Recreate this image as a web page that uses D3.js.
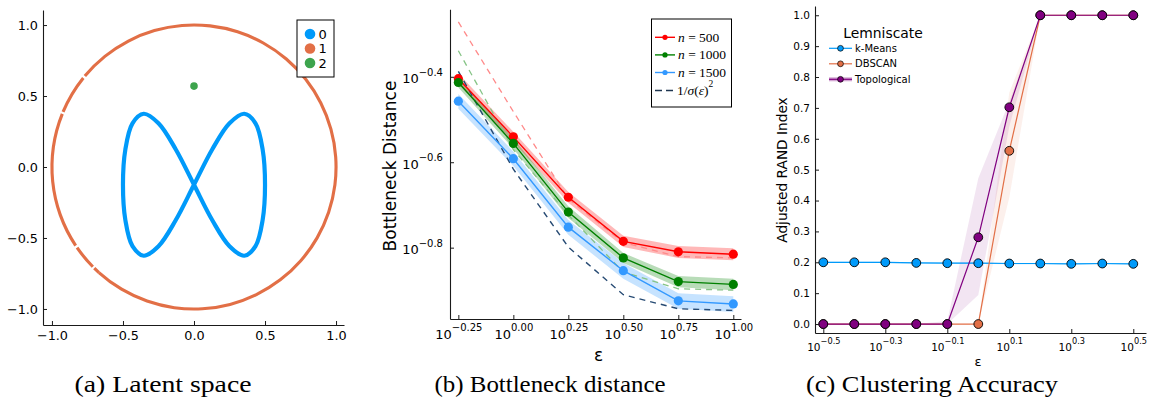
<!DOCTYPE html>
<html><head><meta charset="utf-8">
<script src="https://cdn.jsdelivr.net/npm/d3@7"></script>
<style>
body{margin:0;background:#fff}
svg{display:block}
text{font-family:"DejaVu Sans",sans-serif;fill:#000}
.cap{font-family:"Liberation Serif",serif}
.math{font-family:"Liberation Serif",serif}
</style>
</head><body><svg id="c" width="1151" height="408"></svg>
<script>
// ---------- Panel (a): latent space ----------
const latentTicks = [-1.0, -0.5, 0.0, 0.5, 1.0];
const clusterLabels = ["0", "1", "2"];
const clusterColors = ["#009AFA", "#E26F46", "#3DA44D"];
// cluster 0: lemniscate
const lemX = [0.5, 0.483, 0.433, 0.354, 0.25, 0.129, 0.0, -0.129, -0.25, -0.354, -0.433, -0.483,
              -0.5, -0.483, -0.433, -0.354, -0.25, -0.129, 0.0, 0.129, 0.25, 0.354, 0.433, 0.483];
const lemY = [-0.125, 0.125, 0.308, 0.375, 0.308, 0.125, -0.125, -0.375, -0.558, -0.625, -0.558, -0.375,
              -0.125, 0.125, 0.308, 0.375, 0.308, 0.125, -0.125, -0.375, -0.558, -0.625, -0.558, -0.375];
// cluster 1: unit-circle ring, covered angular segments (degrees, counter-clockwise from +x)
const ringSegments = [[-132, 140.2], [141.2, 157.2], [158, 213.6], [214.6, 224.6], [225.4, 228]];
const ringRadius = 1.0;
// cluster 2: single point
const isolatedX = [0.0];
const isolatedY = [0.57];

// ---------- Panel (b): bottleneck distance ----------
const epsExpB = [-0.25, 0.0, 0.25, 0.5, 0.75, 1.0];
const bTickExpX = [-0.25, 0.0, 0.25, 0.5, 0.75, 1.0];
const bTickExpY = [-0.4, -0.6, -0.8];
const bSeriesNames = ["n = 500", "n = 1000", "n = 1500"];
const bn500  = [0.394, 0.288, 0.208, 0.164, 0.155, 0.153];
const bn500lo = [0.383, 0.280, 0.202, 0.159, 0.150, 0.148];
const bn500hi = [0.405, 0.296, 0.214, 0.169, 0.160, 0.158];
const bn1000 = [0.386, 0.278, 0.192, 0.150, 0.132, 0.130];
const bn1000lo = [0.376, 0.270, 0.186, 0.146, 0.128, 0.126];
const bn1000hi = [0.396, 0.286, 0.198, 0.154, 0.136, 0.134];
const bn1500 = [0.349, 0.256, 0.177, 0.140, 0.119, 0.117];
const bn1500lo = [0.335, 0.246, 0.170, 0.134, 0.114, 0.112];
const bn1500hi = [0.363, 0.266, 0.184, 0.146, 0.124, 0.122];
const bn500fit  = [0.535, 0.330, 0.206, 0.163, 0.151, 0.150];
const bn1000fit = [0.458, 0.269, 0.189, 0.139, 0.127, 0.126];
const sigmaFit  = [0.410, 0.242, 0.159, 0.123, 0.114, 0.113];

// ---------- Panel (c): clustering accuracy ----------
const epsExpC = [-0.5, -0.4, -0.3, -0.2, -0.1, 0.0, 0.1, 0.2, 0.3, 0.4, 0.5];
const cTickExpX = [-0.5, -0.3, -0.1, 0.1, 0.3, 0.5];
const cTicksY = [0.0, 0.1, 0.2, 0.3, 0.4, 0.5, 0.6, 0.7, 0.8, 0.9, 1.0];
const methods = ["k-Means", "DBSCAN", "Topological"];
const kmeans   = [0.200, 0.200, 0.200, 0.198, 0.197, 0.197, 0.196, 0.196, 0.195, 0.196, 0.195];
const kmeansLo = [0.198, 0.198, 0.198, 0.196, 0.195, 0.195, 0.194, 0.194, 0.193, 0.194, 0.193];
const kmeansHi = [0.202, 0.202, 0.202, 0.200, 0.199, 0.199, 0.198, 0.198, 0.197, 0.198, 0.197];
const dbscan   = [0, 0, 0, 0, 0, 0, 0.561, 1, 1, 1, 1];
const dbscanLo = [0, 0, 0, 0, 0, 0, 0.41, 1, 1, 1, 1];
const dbscanHi = [0, 0, 0, 0, 0, 0, 0.75, 1, 1, 1, 1];
const topo     = [0, 0, 0, 0, 0, 0.281, 0.702, 1, 1, 1, 1];
const topoLo   = [0, 0, 0, 0, 0, 0.094, 0.64, 1, 1, 1, 1];
const topoHi   = [0, 0, 0, 0, 0.01, 0.472, 0.72, 1, 1, 1, 1];
const captions = ["(a) Latent space", "(b) Bottleneck distance", "(c) Clustering Accuracy"];

const svg = d3.select("#c");
const axisColor = "#1a1a1a";

function styleAxis(g) {
  g.select(".domain").attr("stroke", axisColor).attr("stroke-width", 1.1);
  g.selectAll(".tick line").attr("stroke", axisColor).attr("stroke-width", 1);
}
function fmtExp(d) {
  let e = Math.round(Math.log10(d) * 100) / 100;
  if (Object.is(e, -0)) e = 0;
  return e;
}
function supLabels(g, expFormat, baseSize, expSize) {
  g.selectAll(".tick text").each(function (d) {
    const t = d3.select(this);
    t.text(null);
    t.append("tspan").attr("font-size", baseSize).text("10");
    t.append("tspan").attr("font-size", expSize).attr("dy", "-0.75em").text(expFormat(fmtExp(d)));
  });
}

// ================= Panel (a) =================
{
  const x = d3.scaleLinear().domain([-1.063, 1.056]).range([43, 344]);
  const y = d3.scaleLinear().domain([-1.113, 1.106]).range([325, 10]);
  const g = svg.append("g");
  const f = d3.format(".1f");

  const arc = d3.arc()
    .innerRadius(x(ringRadius * 0.989) - x(0))
    .outerRadius(x(ringRadius * 1.011) - x(0));
  g.append("g").attr("transform", `translate(${x(0)},${y(0)})`)
    .selectAll("path").data(ringSegments).join("path")
    .attr("d", s => arc({startAngle: (90 - s[1]) * Math.PI / 180, endAngle: (90 - s[0]) * Math.PI / 180}))
    .attr("fill", clusterColors[1]);

  const lemPts = lemX.map((v, i) => [v, lemY[i]]);
  g.append("path").datum(lemPts)
    .attr("d", d3.line().x(d => x(d[0])).y(d => y(d[1])).curve(d3.curveCatmullRomClosed.alpha(0.5)))
    .attr("fill", "none").attr("stroke", clusterColors[0]).attr("stroke-width", 4.2);

  g.selectAll("circle.iso").data(isolatedX.map((v, i) => [v, isolatedY[i]])).join("circle")
    .attr("cx", d => x(d[0])).attr("cy", d => y(d[1])).attr("r", 3.8).attr("fill", clusterColors[2]);

  const xa = g.append("g").attr("transform", "translate(0,325)")
    .call(d3.axisBottom(x).tickValues(latentTicks).tickFormat(f).tickSize(-4).tickSizeOuter(0).tickPadding(6));
  xa.selectAll("text").attr("font-size", 12.8);
  styleAxis(xa);
  const ya = g.append("g").attr("transform", "translate(43,0)")
    .call(d3.axisLeft(y).tickValues(latentTicks).tickFormat(f).tickSize(-4).tickSizeOuter(0).tickPadding(5));
  ya.selectAll("text").attr("font-size", 12.8);
  styleAxis(ya);

  const lg = g.append("g");
  lg.append("rect").attr("x", 297).attr("y", 20).attr("width", 37).attr("height", 57)
    .attr("fill", "#fff").attr("stroke", "#000").attr("stroke-width", 1);
  clusterLabels.forEach((lab, i) => {
    lg.append("circle").attr("cx", 310).attr("cy", 34 + i * 14.5).attr("r", 5.3).attr("fill", clusterColors[i]);
    lg.append("text").attr("x", 318.5).attr("y", 34 + i * 14.5).attr("dy", "0.36em")
      .attr("font-size", 13).text(lab);
  });
}

// ================= Panel (b) =================
{
  const x = d3.scaleLog().domain([10 ** -0.288, 10 ** 1.035]).range([450, 741]);
  const y = d3.scaleLog().domain([10 ** -0.967, 10 ** -0.242]).range([319, 9.3]);
  const g = svg.append("g");
  const defs = svg.append("defs");
  defs.append("clipPath").attr("id", "clipB").append("rect")
    .attr("x", 450).attr("y", 9.3).attr("width", 291).attr("height", 310);
  const pg = g.append("g").attr("clip-path", "url(#clipB)");
  const eps = epsExpB.map(e => 10 ** e);

  const series = [
    {v: bn500, lo: bn500lo, hi: bn500hi, fit: bn500fit, c: "#ff0000", fitc: "#ff8a8a"},
    {v: bn1000, lo: bn1000lo, hi: bn1000hi, fit: bn1000fit, c: "#008000", fitc: "#86c486"},
    {v: bn1500, lo: bn1500lo, hi: bn1500hi, fit: null, c: "#3399ff", fitc: null}
  ];
  const area = d3.area().x((d, i) => x(eps[i])).y0(d => y(d[0])).y1(d => y(d[1]));
  const line = d3.line().x((d, i) => x(eps[i])).y(d => y(d));

  series.forEach(s => {
    pg.append("path").datum(s.lo.map((v, i) => [v, s.hi[i]])).attr("d", area)
      .attr("fill", s.c).attr("fill-opacity", 0.28);
  });
  series.forEach(s => {
    if (s.fit) pg.append("path").datum(s.fit).attr("d", line).attr("fill", "none")
      .attr("stroke", s.fitc).attr("stroke-width", 1.3).attr("stroke-dasharray", "6,5");
  });
  pg.append("path").datum(sigmaFit).attr("d", line).attr("fill", "none")
    .attr("stroke", "#264a73").attr("stroke-width", 1.4).attr("stroke-dasharray", "6,5");
  series.forEach(s => {
    pg.append("path").datum(s.v).attr("d", line).attr("fill", "none")
      .attr("stroke", s.c).attr("stroke-width", 1.4);
    pg.selectAll(null).data(s.v).join("circle")
      .attr("cx", (d, i) => x(eps[i])).attr("cy", d => y(d)).attr("r", 4.6).attr("fill", s.c);
  });

  const xa = g.append("g").attr("transform", "translate(0,319)")
    .call(d3.axisBottom(x).tickValues(bTickExpX.map(e => 10 ** e)).tickSize(-4).tickSizeOuter(0).tickPadding(9));
  supLabels(xa, d3.format(".2f"), 13, 10);
  xa.selectAll(".tick text").attr("dy", "1.05em");
  styleAxis(xa);
  const ya = g.append("g").attr("transform", "translate(450,0)")
    .call(d3.axisLeft(y).tickValues(bTickExpY.map(e => 10 ** e)).tickSize(-4).tickSizeOuter(0).tickPadding(7));
  supLabels(ya, d3.format(".1f"), 13, 10);
  ya.selectAll(".tick text").attr("dy", "0.6em");
  styleAxis(ya);

  g.append("text").attr("transform", "translate(396,166) rotate(-90)").attr("text-anchor", "middle")
    .attr("font-size", 17).text("Bottleneck Distance");
  g.append("text").attr("x", 598.5).attr("y", 361).attr("text-anchor", "middle")
    .attr("font-size", 17).text("ε");

  const lg = g.append("g");
  lg.append("rect").attr("x", 651.5).attr("y", 19).attr("width", 80).attr("height", 88)
    .attr("fill", "#fff").attr("stroke", "#000").attr("stroke-width", 1);
  const entries = [{c: "#ff0000"}, {c: "#008000"}, {c: "#3399ff"}];
  entries.forEach((e, i) => {
    const yy = 37.3 + i * 17.6;
    lg.append("line").attr("x1", 655).attr("x2", 675).attr("y1", yy).attr("y2", yy)
      .attr("stroke", e.c).attr("stroke-width", 1.4);
    lg.append("circle").attr("cx", 665).attr("cy", yy).attr("r", 2.6).attr("fill", e.c);
    const t = lg.append("text").attr("class", "math").attr("x", 678).attr("y", yy).attr("dy", "0.33em")
      .attr("font-size", 13.5);
    t.append("tspan").attr("font-style", "italic").text("n");
    t.append("tspan").text(" = " + bSeriesNames[i].split("= ")[1]);
  });
  const yy = 90.5;
  lg.append("line").attr("x1", 655).attr("x2", 675).attr("y1", yy).attr("y2", yy)
    .attr("stroke", "#1e3550").attr("stroke-width", 1.4).attr("stroke-dasharray", "7,4");
  const t = lg.append("text").attr("class", "math").attr("x", 677).attr("y", yy).attr("dy", "0.33em")
    .attr("font-size", 13.5);
  t.append("tspan").text("1/");
  t.append("tspan").attr("font-style", "italic").text("σ");
  t.append("tspan").text("(");
  t.append("tspan").attr("font-style", "italic").text("ε");
  t.append("tspan").text(")");
  t.append("tspan").attr("font-size", 9.5).attr("dy", "-0.8em").text("2");
}

// ================= Panel (c) =================
{
  const x = d3.scaleLog().domain([10 ** -0.5268, 10 ** 0.541]).range([815, 1146]);
  const y = d3.scaleLinear().domain([-0.029, 1.03]).range([333, 6]);
  const g = svg.append("g");
  const eps = epsExpC.map(e => 10 ** e);
  const area = d3.area().x((d, i) => x(eps[i])).y0(d => y(d[0])).y1(d => y(d[1]));
  const line = d3.line().x((d, i) => x(eps[i])).y(d => y(d));

  const series = [
    {v: kmeans, lo: kmeansLo, hi: kmeansHi, c: "#009AFA", op: 0.3},
    {v: dbscan, lo: dbscanLo, hi: dbscanHi, c: "#E26F46", op: 0.1},
    {v: topo, lo: topoLo, hi: topoHi, c: "#800080", op: 0.1}
  ];
  series.forEach(s => {
    g.append("path").datum(s.lo.map((v, i) => [v, s.hi[i]])).attr("d", area)
      .attr("fill", s.c).attr("fill-opacity", s.op);
  });
  series.forEach(s => {
    g.append("path").datum(s.v).attr("d", line).attr("fill", "none")
      .attr("stroke", s.c).attr("stroke-width", 1.2);
    g.selectAll(null).data(s.v).join("circle")
      .attr("cx", (d, i) => x(eps[i])).attr("cy", d => y(d)).attr("r", 4.4)
      .attr("fill", s.c).attr("stroke", "#000").attr("stroke-width", 0.9);
  });

  const xa = g.append("g").attr("transform", "translate(0,333)")
    .call(d3.axisBottom(x).tickValues(cTickExpX.map(e => 10 ** e)).tickSize(-4).tickSizeOuter(0).tickPadding(7));
  supLabels(xa, d3.format(".1f"), 10.5, 8.2);
  xa.selectAll(".tick text").attr("dy", "1.05em");
  styleAxis(xa);
  const ya = g.append("g").attr("transform", "translate(815,0)")
    .call(d3.axisLeft(y).tickValues(cTicksY).tickFormat(d3.format(".1f")).tickSize(-4).tickSizeOuter(0).tickPadding(5));
  ya.selectAll("text").attr("font-size", 10.5);
  styleAxis(ya);

  g.append("text").attr("transform", "translate(787,170) rotate(-90)").attr("text-anchor", "middle")
    .attr("font-size", 13.7).text("Adjusted RAND Index");
  g.append("text").attr("x", 978).attr("y", 366).attr("text-anchor", "middle")
    .attr("font-size", 13).text("ε");

  const lg = g.append("g");
  lg.append("text").attr("x", 883).attr("y", 38).attr("text-anchor", "middle")
    .attr("font-size", 13.9).text("Lemniscate");
  series.forEach((s, i) => {
    const yy = 48.3 + i * 15.5;
    if (i === 2) lg.append("line").attr("x1", 829).attr("x2", 852).attr("y1", yy).attr("y2", yy)
      .attr("stroke", s.c).attr("stroke-opacity", 0.35).attr("stroke-width", 4);
    lg.append("line").attr("x1", 829).attr("x2", 852).attr("y1", yy).attr("y2", yy)
      .attr("stroke", s.c).attr("stroke-width", 1.2);
    lg.append("circle").attr("cx", 840.5).attr("cy", yy).attr("r", 2.9)
      .attr("fill", s.c).attr("stroke", "#000").attr("stroke-width", 0.7);
    lg.append("text").attr("x", 855).attr("y", yy).attr("dy", "0.36em").attr("font-size", 10).text(methods[i]);
  });
}

// ================= Captions =================
const capPos = [[163, 177], [550, 231], [932, 252]];
captions.forEach((c, i) => {
  svg.append("text").attr("class", "cap").attr("x", capPos[i][0]).attr("y", 392)
    .attr("text-anchor", "middle").attr("font-size", 23)
    .attr("textLength", capPos[i][1]).attr("lengthAdjust", "spacingAndGlyphs").text(c);
});
</script>
</body></html>
